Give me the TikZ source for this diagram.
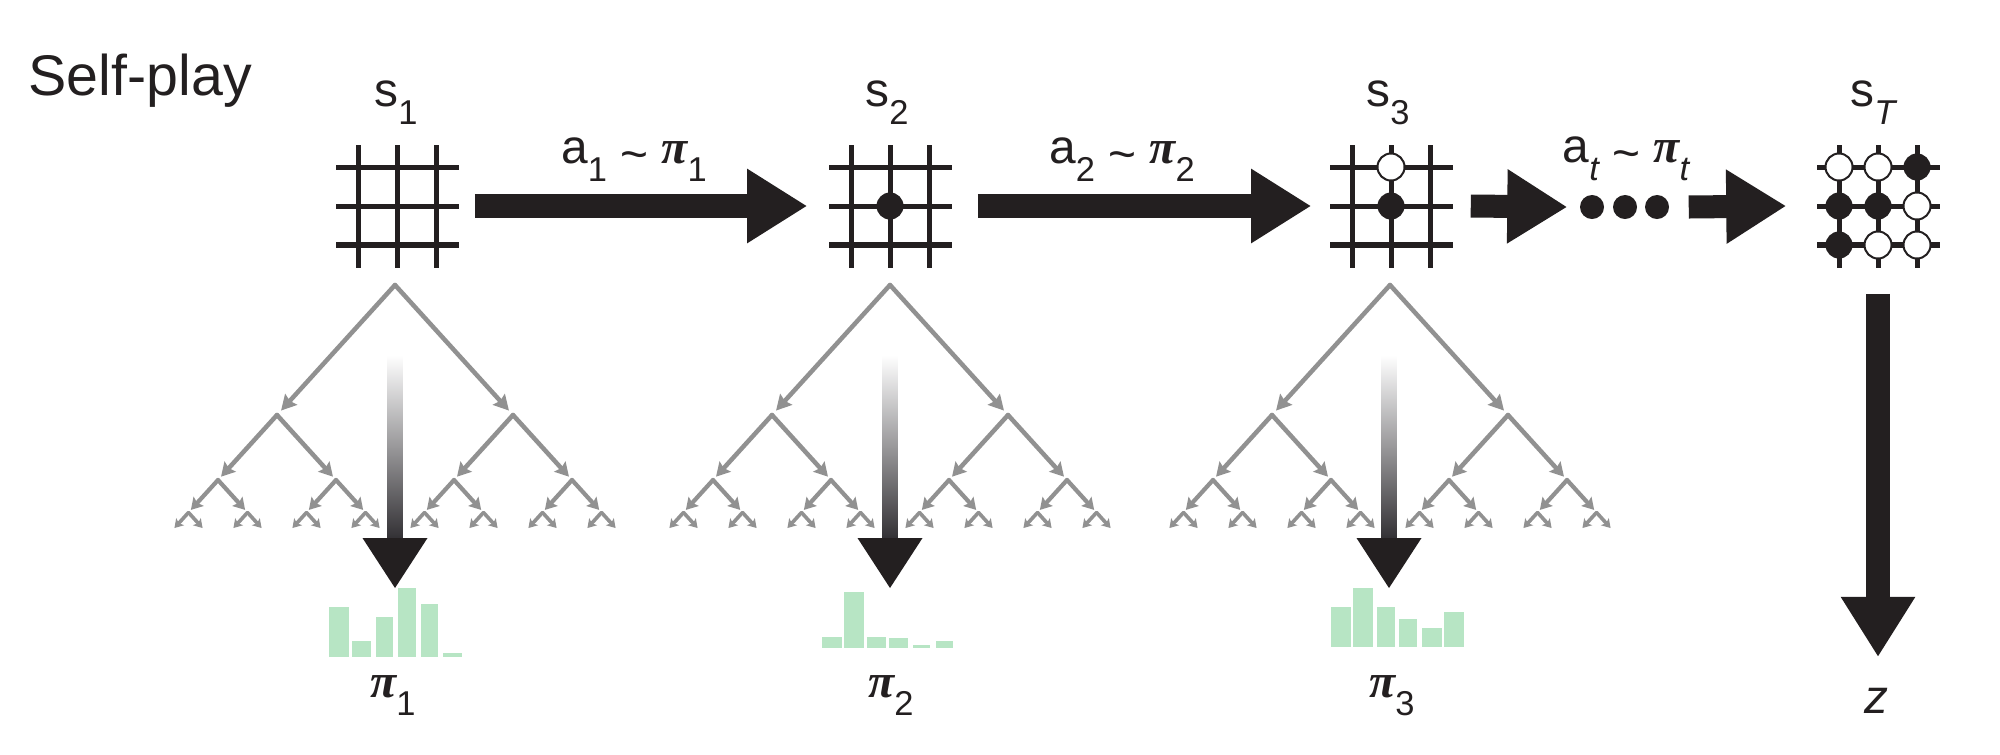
\documentclass[tikz,border=0pt]{standalone}
\usepackage{fontspec}
\setmainfont{Liberation Sans}
\newfontfamily\piserif{Liberation Serif}
\usetikzlibrary{arrows.meta,calc}
\definecolor{ink}{RGB}{35,31,32}
\definecolor{treegray}{RGB}{145,145,145}
\definecolor{histgreen}{RGB}{183,229,196}
\definecolor{shaftdark}{RGB}{50,48,52}
\newcommand\sbs[1]{\raisebox{-0.38em}{\fontsize{9.8pt}{10pt}\selectfont #1}}
\newcommand\pisym{{\piserif\bfseries\itshape π}}
\newcommand\tld{\raisebox{-0.15em}{\textasciitilde}}
\tikzset{
  boardbox/.style={rectangle,minimum size=1.22cm,inner sep=0pt},
  boardline/.style={ink,line width=0.05cm},
  wstone/.style={circle,minimum size=0.27cm,inner sep=0pt,fill=white,draw=ink,line width=0.02cm},
  bstone/.style={circle,minimum size=0.27cm,inner sep=0pt,fill=ink},
  dotnode/.style={circle,minimum size=0.24cm,inner sep=0pt,fill=ink},
  bigarrow/.style={ink,line width=0.23cm,-{Triangle[length=0.6cm,width=0.7cm]}},
  lab/.style={font=\fontsize{13.6pt}{16pt}\selectfont,inner sep=0pt,anchor=base,text=ink},
  treeline/.style={treegray,line cap=round,line join=round},
  histbar/.style={fill=histgreen,draw=none},
}
\newcommand\goboard[3]{%
  \node[boardbox] (#1) at (#2,#3) {};
  \foreach \k in {-1,0,1}{
    \draw[boardline] ($(#1)+(\k*39,-61)$) -- ($(#1)+(\k*39,62)$);
  }
  \draw[boardline] ($(#1)+(-61,-39)$) -- ($(#1)+(62,-39)$);
  \draw[boardline] ($(#1)+(-61,0)$) -- ($(#1)+(62,0)$);
  \draw[boardline,line width=0.065cm] ($(#1)+(-61,39)$) -- ($(#1)+(62,39)$);
}
\newcommand\mcts[2]{% #1 root x, #2 root y
  \foreach \lv/\dd/\dy/\nn/\py/\al/\aw/\lw/\sh in {
     1/118/130/1/0/1.5mm/1.6mm/0.045cm/0.06cm,
     2/59/65/2/130/1.35mm/1.5mm/0.045cm/0.045cm,
     3/29.5/32.5/4/195/1.15mm/1.35mm/0.042cm/0.035cm,
     4/14.75/16.25/8/227.5/0.85mm/1.05mm/0.036cm/0.01cm}{
    \pgfmathtruncatemacro\nm{\nn-1}
    \foreach \jj in {0,...,\nm}{
      \pgfmathsetmacro\px{#1+(\jj-(\nn-1)/2)*4*\dd}
      \pgfmathsetmacro\pyy{#2+\py}
      \foreach \sg in {-1,1}{
        \draw[treeline,line width=\lw,-{Stealth[length=\al,width=\aw,inset=0.2mm]},shorten >=\sh]
          (\px,\pyy) -- ({\px+\sg*\dd},{\pyy+\dy});
      }
    }
  }
}
\newcommand\gradarrow[1]{% x
  \shade[top color=white,bottom color=shaftdark] ({#1-7.5},355) rectangle ({#1+7.5},539);
  \fill[ink] ({#1-32.5},538) -- ({#1+32.5},538) -- (#1,588) -- cycle;
}
\begin{document}
\begin{tikzpicture}[x=0.01cm,y=-0.01cm]
\useasboundingbox[fill=white] (0,0) rectangle (2000,754);

% title
\node[font=\fontsize{16.3pt}{19pt}\selectfont,inner sep=0pt,anchor=base west,text=ink] (title) at (28,95) {Self-play};

% boards
\goboard{s1}{397}{206}
\goboard{s2}{890}{206}
\goboard{s3}{1391}{206}
\goboard{sT}{1878}{206}

% stones
\node[bstone] (st2a) at (s2) {};
\node[wstone] (st3a) at ($(s3)+(0,-39)$) {};
\node[bstone] (st3b) at (s3) {};
\node[wstone] (sTa) at ($(sT)+(-39,-39)$) {};
\node[wstone] (sTb) at ($(sT)+(0,-39)$) {};
\node[bstone] (sTc) at ($(sT)+(39,-39)$) {};
\node[bstone] (sTd) at ($(sT)+(-39,0)$) {};
\node[bstone] (sTe) at ($(sT)+(0,0)$) {};
\node[wstone] (sTf) at ($(sT)+(39,0)$) {};
\node[bstone] (sTg) at ($(sT)+(-39,39)$) {};
\node[wstone] (sTh) at ($(sT)+(0,39)$) {};
\node[wstone] (sTi) at ($(sT)+(39,39)$) {};

% dots
\node[dotnode] (d1) at (1592,207) {};
\node[dotnode] (d2) at (1625,207) {};
\node[dotnode] (d3) at (1657,207) {};

% state labels
\node[lab] (ls1) at (396,106) {s\sbs{1}};
\node[lab] (ls2) at (887,106) {s\sbs{2}};
\node[lab] (ls3) at (1388,106) {s\sbs{3}};
\node[lab] (lsT) at (1873,106) {s\sbs{\itshape T}};

% big arrows
\draw[bigarrow] ([xshift=0.16cm]s1.east) -- ([xshift=-0.21cm]s2.west);
\draw[bigarrow] ([xshift=0.26cm]s2.east) -- ([xshift=-0.18cm]s3.west);
\draw[bigarrow] ([xshift=0.18cm]s3.east) -- ([xshift=-0.12cm]d1.west);
\draw[bigarrow] ([xshift=0.19cm]d3.east) -- ([xshift=-0.30cm]sT.west);

% action labels
\node[lab] (la1) at (634,163) {a\sbs{1} \tld{} \pisym\sbs{1}};
\node[lab] (la2) at (1122,163) {a\sbs{2} \tld{} \pisym\sbs{2}};
\node[lab] (lat) at (1626,162) {a\sbs{\itshape t} \tld{} \pisym\sbs{\itshape t}};

% search trees
\mcts{395}{285}
\mcts{890}{285}
\mcts{1390}{285}

% gradient arrows
\gradarrow{395}
\gradarrow{890}
\gradarrow{1389}

% histograms
\foreach \xa/\xb/\yt in {329/349/607,352/371/641,376/393/617,398/416/588,421/438/604,443/462/653}
  \fill[histbar] (\xa,\yt) rectangle (\xb,657);
\foreach \xa/\xb/\yt in {822/842/637,844/864/592,867/886/637,889/908/638,913/930/645,936/953/641}
  \fill[histbar] (\xa,\yt) rectangle (\xb,648);
\foreach \xa/\xb/\yt in {1331/1351/607,1353/1373/588,1377/1395/607,1399/1417/619,1422/1442/628,1444/1464/612}
  \fill[histbar] (\xa,\yt) rectangle (\xb,647);

% policy labels
\node[lab] (lp1) at (393,697) {\pisym\sbs{1}};
\node[lab] (lp2) at (891,697) {\pisym\sbs{2}};
\node[lab] (lp3) at (1392,697) {\pisym\sbs{3}};

% outcome
\coordinate (zend) at (1878,657);
\draw[ink,line width=0.24cm,-{Triangle[length=0.6cm,width=0.7cm]}] ([yshift=-0.26cm]sT.south) -- (zend);
\node[lab] (lz) at (1876,713) {\itshape z};
\end{tikzpicture}
\end{document}
